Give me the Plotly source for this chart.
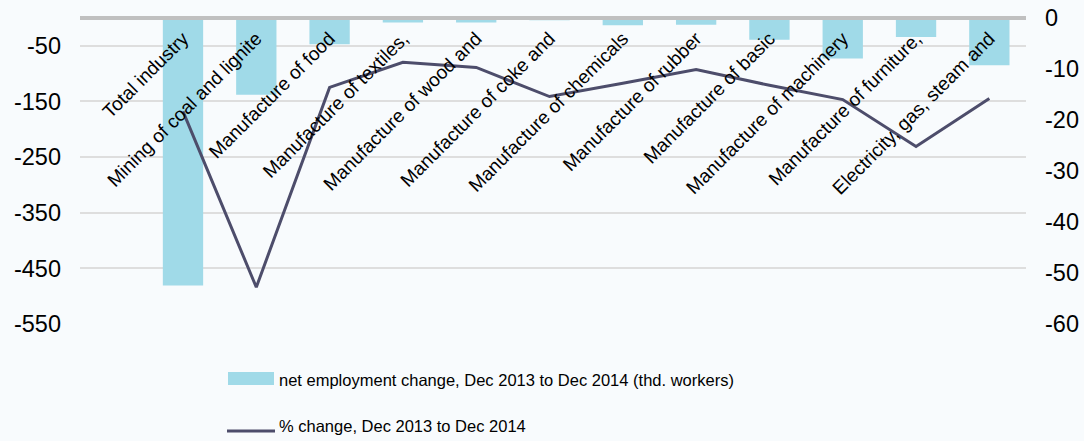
import plotly.graph_objects as go

# ---- data ----
categories = ["Total industry", "Mining of coal and lignite", "Manufacture of food",
              "Manufacture of textiles,", "Manufacture of wood and", "Manufacture of coke and",
              "Manufacture of chemicals", "Manufacture of rubber", "Manufacture of basic",
              "Manufacture of machinery", "Manufacture of furniture,", "Electricity, gas, steam and"]
net_change = [-481, -138, -47, -8, -8, -4, -13, -12, -39, -73, -34, -85]
pct_change = [-18.3, -52.8, -13.6, -8.7, -9.7, -15.4, -12.8, -10.1, -13.2, -16.0, -25.2, -15.8]
bar_name = "net employment change, Dec 2013 to Dec 2014 (thd. workers)"
line_name = "% change, Dec 2013 to Dec 2014"
left_ticks = [-550, -450, -350, -250, -150, -50]
right_ticks = [-60, -50, -40, -30, -20, -10, 0]

# ---- style ----
W, H = 1084, 441
L, R, T, B = 80, 58, 18, 117
BG = "#f8fbfd"
BAR = "#a0dae8"
LINE = "#4d4d6b"
FONT = "Liberation Sans, Arial, sans-serif"

def px_x(p):
    return (p - L) / (W - L - R)

def px_y(p):
    return (H - B - p) / (H - T - B)

fig = go.Figure()
fig.add_bar(x=categories, y=net_change, name=bar_name, marker_color=BAR,
            marker_line_width=0, width=0.55, yaxis="y")
fig.add_scatter(x=categories, y=pct_change, name=line_name, mode="lines",
                line=dict(color=LINE, width=3), yaxis="y2")

fig.update_layout(
    width=W, height=H,
    margin=dict(l=L, r=R, t=T, b=B, pad=0, autoexpand=False),
    paper_bgcolor=BG, plot_bgcolor=BG,
    showlegend=False,
    font=dict(family=FONT, color="#000000"),
    xaxis=dict(type="category", range=[-1.405, 11.5], anchor="free", position=1,
               side="bottom", showline=True, linecolor="#c0c0c0", linewidth=4,
               ticks="", tickangle=-45, tickfont=dict(size=19, family=FONT),
               ticklabelstandoff=0,
               showgrid=False, zeroline=False, automargin=False, fixedrange=True),
    yaxis=dict(range=[-550, 0], tickvals=left_ticks, ticktext=[str(v) for v in left_ticks],
               showgrid=True, gridcolor="#dedede",
               gridwidth=2, zeroline=False, showline=False, ticks="",
               tickfont=dict(size=23.5), ticklabelstandoff=18, automargin=False),
    yaxis2=dict(range=[-60, 0], overlaying="y", side="right", tickvals=right_ticks,
                ticktext=[str(v) for v in right_ticks],
                showgrid=False, zeroline=False, showline=False, ticks="",
                tickfont=dict(size=23.5), ticklabelstandoff=18, automargin=False),
)

# custom legend (wide swatches like the original)
fig.add_shape(type="rect", xref="paper", yref="paper",
              x0=px_x(228), x1=px_x(274), y0=px_y(385), y1=px_y(372),
              fillcolor=BAR, line=dict(width=0))
fig.add_shape(type="line", xref="paper", yref="paper",
              x0=px_x(227), x1=px_x(275), y0=px_y(431), y1=px_y(431),
              line=dict(color=LINE, width=3))
fig.add_annotation(text=bar_name, xref="paper", yref="paper", x=px_x(277), y=px_y(380),
                   xanchor="left", yanchor="middle", showarrow=False,
                   font=dict(size=16.5, family=FONT, color="#000000"))
fig.add_annotation(text=line_name, xref="paper", yref="paper", x=px_x(277), y=px_y(426),
                   xanchor="left", yanchor="middle", showarrow=False,
                   font=dict(size=16.5, family=FONT, color="#000000"))

fig.write_html("out.html", config={"displayModeBar": False},
               post_script="document.body.style.margin='0';document.body.style.overflow='hidden';")
